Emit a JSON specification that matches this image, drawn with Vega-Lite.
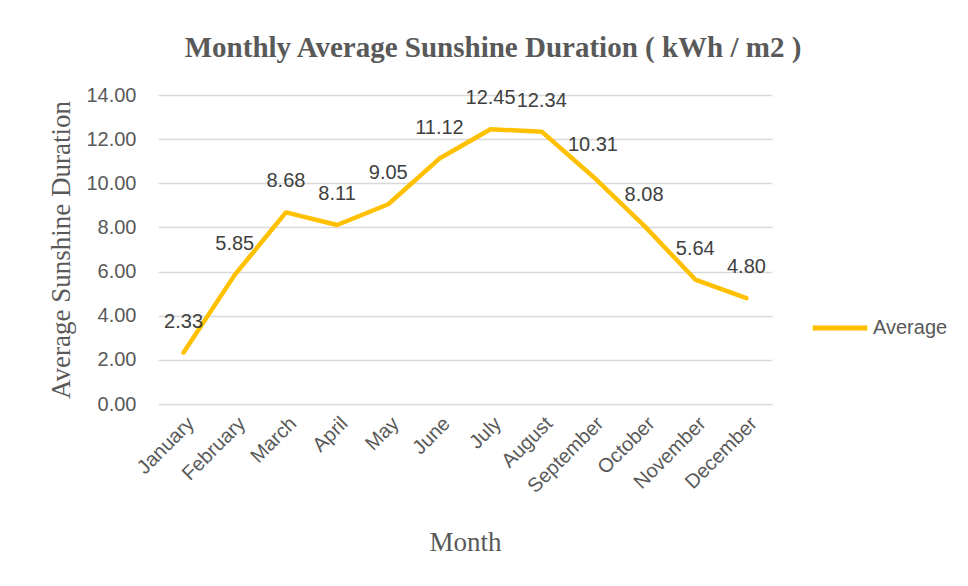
{
  "$schema": "https://vega.github.io/schema/vega-lite/v6.json",
  "width": 614,
  "height": 309,
  "autosize": {"type": "none"},
  "padding": {"left": 158, "top": 95, "right": 196, "bottom": 182},
  "background": "white",
  "config": {"view": {"stroke": null}},
  "title": {
    "text": "Monthly Average Sunshine Duration ( kWh / m2 )",
    "font": "Liberation Serif",
    "fontSize": 29,
    "fontWeight": "bold",
    "color": "#595959",
    "anchor": "middle",
    "dx": 28,
    "offset": 22
  },
  "data": {
    "values": [
      {"month": "January", "value": 2.33, "series": "Average"},
      {"month": "February", "value": 5.85, "series": "Average"},
      {"month": "March", "value": 8.68, "series": "Average"},
      {"month": "April", "value": 8.11, "series": "Average"},
      {"month": "May", "value": 9.05, "series": "Average"},
      {"month": "June", "value": 11.12, "series": "Average"},
      {"month": "July", "value": 12.45, "series": "Average"},
      {"month": "August", "value": 12.34, "series": "Average"},
      {"month": "September", "value": 10.31, "series": "Average"},
      {"month": "October", "value": 8.08, "series": "Average"},
      {"month": "November", "value": 5.64, "series": "Average"},
      {"month": "December", "value": 4.80, "series": "Average"}
    ]
  },
  "encoding": {
    "x": {
      "field": "month",
      "type": "nominal",
      "sort": null,
      "scale": {"type": "point", "padding": 0.5},
      "axis": {
        "title": "Month",
        "titleFont": "Liberation Serif",
        "titleFontSize": 27,
        "titleFontWeight": "normal",
        "titleColor": "#595959",
        "titlePadding": 33,
        "labelAngle": -45,
        "labelFont": "Liberation Sans",
        "labelFontSize": 20,
        "labelColor": "#595959",
        "labelPadding": 9,
        "ticks": false,
        "domain": false,
        "grid": false
      }
    },
    "y": {
      "field": "value",
      "type": "quantitative",
      "scale": {"domain": [0, 14]},
      "axis": {
        "title": "Average Sunshine Duration",
        "titleFont": "Liberation Serif",
        "titleFontSize": 27,
        "titleFontWeight": "normal",
        "titleColor": "#595959",
        "titlePadding": 10,
        "values": [0, 2, 4, 6, 8, 10, 12, 14],
        "format": ".2f",
        "labelFont": "Liberation Sans",
        "labelFontSize": 20,
        "labelColor": "#595959",
        "labelPadding": 22,
        "ticks": false,
        "domain": false,
        "grid": true,
        "gridColor": "#D9D9D9",
        "gridWidth": 1.3
      }
    }
  },
  "layer": [
    {
      "mark": {"type": "line", "strokeWidth": 4.5, "strokeCap": "round", "strokeJoin": "round"},
      "encoding": {
        "color": {
          "field": "series",
          "type": "nominal",
          "scale": {"range": ["#FFC000"]},
          "legend": {
            "title": null,
            "orient": "none",
            "legendX": 652,
            "legendY": 203,
            "symbolType": "stroke",
            "symbolSize": 3000,
            "symbolStrokeWidth": 5,
            "labelFont": "Liberation Sans",
            "labelFontSize": 20,
            "labelColor": "#595959",
            "labelOffset": 3
          }
        }
      }
    },
    {
      "mark": {"type": "text", "dy": -31, "font": "Liberation Sans", "fontSize": 20, "color": "#404040"},
      "encoding": {
        "text": {"field": "value", "type": "quantitative", "format": ".2f"}
      }
    }
  ]
}
